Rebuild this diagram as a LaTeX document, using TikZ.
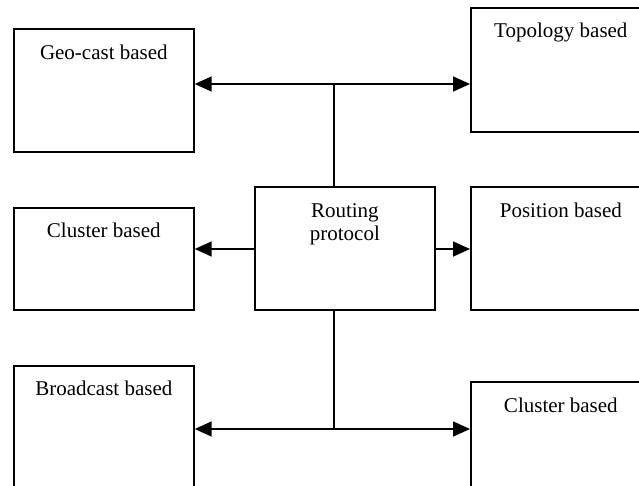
\documentclass[tikz,border=0pt]{standalone}
\usepackage{fontspec}
\setmainfont{Liberation Serif}
\usetikzlibrary{arrows.meta}
\begin{document}
\begin{tikzpicture}[x=1pt,y=-1pt,
  box/.style={draw,line width=1.7pt,anchor=north west,minimum width=180pt,inner sep=0pt},
  lbl/.style={font=\fontsize{21}{23}\selectfont,inner sep=0pt,anchor=base,align=center},
  arr/.style={line width=1.7pt,-{Triangle[length=17pt,width=15pt]}},
  ln/.style={line width=1.7pt}]
\useasboundingbox (0,0) rectangle (639,485);
\clip (0,0) rectangle (639,485);
% boxes
\node[box,minimum height=123pt] (geo) at (13,28) {};
\node[box,minimum height=124pt] (topo) at (470,7) {};
\node[box,minimum height=102pt] (clL) at (13,207) {};
\node[box,minimum height=123pt] (rout) at (254,186) {};
\node[box,minimum height=123pt] (pos) at (470,186) {};
\node[box,minimum height=123pt] (broad) at (13,365) {};
\node[box,minimum height=123pt] (clR) at (470,381) {};
% texts
\node[lbl] (geoT) at ([yshift=-31pt]geo.north) {Geo-cast based};
\node[lbl] (topoT) at ([yshift=-30pt]topo.north) {Topology based};
\node[lbl] (clLT) at ([yshift=-30pt]clL.north) {Cluster based};
\node[lbl] (routT) at ([yshift=-54pt]rout.north) {Routing\\protocol};
\node[lbl] (posT) at ([yshift=-31pt]pos.north) {Position based};
\node[lbl] (broadT) at ([yshift=-30pt]broad.north) {Broadcast based};
\node[lbl] (clRT) at ([yshift=-31pt]clR.north) {Cluster based};
% junctions
\coordinate (jt) at (334,84);
\coordinate (jb) at (334,429);
\coordinate (mL) at (254,249);
\coordinate (mR) at (434,249);
% connectors
\draw[ln] (jt |- rout.north) -- (jt);
\draw[arr] (jt) -- (jt -| geo.east);
\draw[arr] (jt) -- (jt -| topo.west);
\draw[arr] (mL) -- (mL -| clL.east);
\draw[arr] (mR) -- (mR -| pos.west);
\draw[ln] (jb |- rout.south) -- (jb);
\draw[arr] (jb) -- (jb -| broad.east);
\draw[arr] (jb) -- (jb -| clR.west);
\end{tikzpicture}
\end{document}
